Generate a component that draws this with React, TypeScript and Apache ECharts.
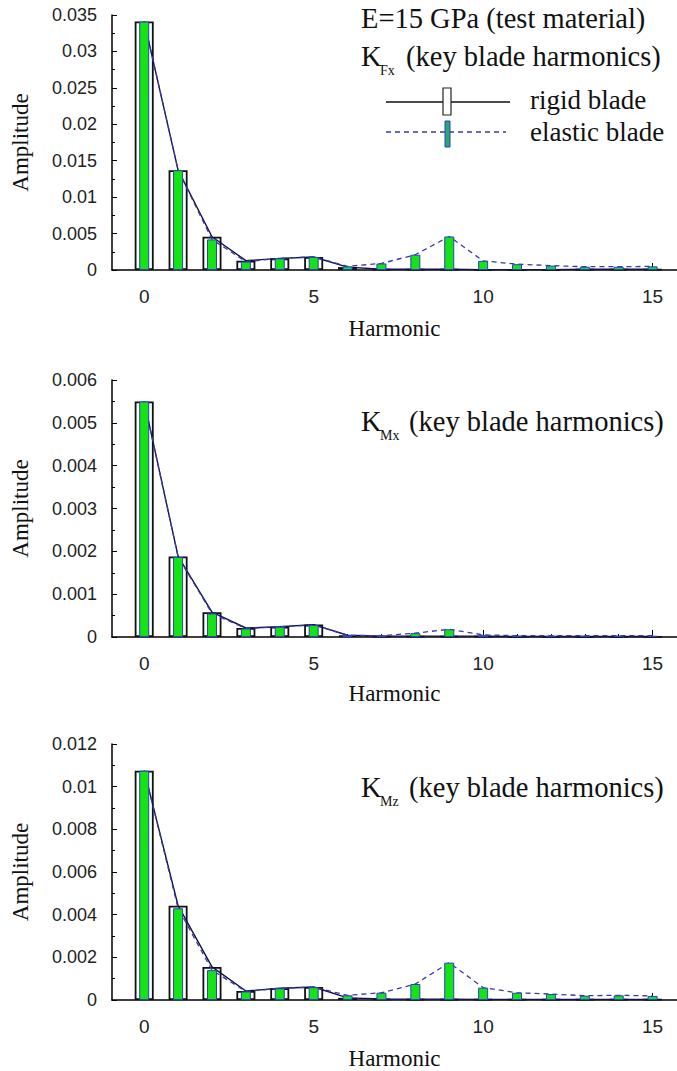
import React, { useEffect, useRef } from "react";
import * as echarts from "echarts";

const harmonics = [0, 1, 2, 3, 4, 5, 6, 7, 8, 9, 10, 11, 12, 13, 14, 15];
const xTickValues = [0, 5, 10, 15];

const kfxRigid = [0.0341, 0.0137, 0.00457, 0.00128, 0.0016, 0.00179, 0.0004, 0.0001, 0.0001, 0.0001, 0.00005, 0.00005, 0.00005, 0.0001, 0.0001, 0.0001];
const kfxElastic = [0.0341, 0.0137, 0.0042, 0.00115, 0.0016, 0.0018, 0.0005, 0.0009, 0.0021, 0.0046, 0.00125, 0.0008, 0.0006, 0.00045, 0.00045, 0.0005];

const kmxRigid = [0.0055, 0.00188, 0.00058, 0.00021, 0.00024, 0.00029, 0.00004, 0.00002, 0.00002, 0.00002, 0.00002, 0.00001, 0.00001, 0.00001, 0.00001, 0.00001];
const kmxElastic = [0.0055, 0.00187, 0.00055, 0.0002, 0.00024, 0.00028, 0.00004, 0.00003, 0.00009, 0.00018, 0.00005, 0.00003, 0.00003, 0.00003, 0.00003, 0.00003];

const kmzRigid = [0.01075, 0.00442, 0.00155, 0.00042, 0.00055, 0.00061, 0.0001, 0.00005, 0.00004, 0.00004, 0.00003, 0.00003, 0.00003, 0.00003, 0.00003, 0.00003];
const kmzElastic = [0.01075, 0.0043, 0.0014, 0.0004, 0.00055, 0.0006, 0.00022, 0.00034, 0.00075, 0.00175, 0.00058, 0.00034, 0.00028, 0.0002, 0.00022, 0.00019];

const panelSubscripts = ["Fx", "Mx", "Mz"];
const panelYMax = [0.035, 0.006, 0.012];
const panelYInterval = [0.005, 0.001, 0.002];
const panelRigid = [kfxRigid, kmxRigid, kmzRigid];
const panelElastic = [kfxElastic, kmxElastic, kmzElastic];

const headerText = "E=15 GPa (test material)";
const titleRest = "(key blade harmonics)";
const legendNames = ["rigid blade", "elastic blade"];

// layout
const gridTops = [15, 380, 744];
const gridHeights = [255, 257, 256];
const gridLeft = 112;
const titleY = [58, 423, 789];

const SERIF = "Liberation Serif, serif";
const SANS = "Liberation Sans, Arial, sans-serif";

const RIGID_LINE = "#12124a";
const ELASTIC_LINE = "#3a3aa6";
const GREEN = "#14e314";
const GREEN_BORDER = "#2a40c8";

function buildOption() {
  const grid: any[] = [];
  const xAxis: any[] = [];
  const yAxis: any[] = [];
  const series: any[] = [];
  const graphic: any[] = [];

  for (let p = 0; p < 3; p++) {
    grid.push({ left: gridLeft, right: 0, top: gridTops[p], height: gridHeights[p] });
    xAxis.push({
      type: "value",
      gridIndex: p,
      min: -0.95,
      max: 15.72,
      position: "bottom",
      axisLine: { onZero: false, lineStyle: { color: "#000", width: 1.5 } },
      axisTick: { show: true, inside: true, length: 7, customValues: xTickValues, lineStyle: { color: "#000" } },
      axisLabel: { customValues: xTickValues, fontSize: 19, color: "#222", margin: 17, fontFamily: SANS },
      splitLine: { show: false },
      name: "Harmonic",
      nameLocation: "middle",
      nameGap: [47, 45, 47][p],
      nameTextStyle: { fontFamily: SERIF, fontSize: 23, color: "#111" },
    });
    xAxis.push({
      type: "value",
      gridIndex: p,
      min: -0.95,
      max: 15.72,
      position: "bottom",
      offset: 0,
      axisLine: { show: false, onZero: false },
      axisTick: { show: true, inside: true, length: 3, customValues: harmonics, lineStyle: { color: "#111" } },
      axisLabel: { show: false },
      splitLine: { show: false },
    });
    yAxis.push({
      type: "value",
      gridIndex: p,
      min: 0,
      max: panelYMax[p],
      interval: panelYInterval[p],
      axisLine: { show: true, onZero: false, lineStyle: { color: "#000", width: 1.5 } },
      axisTick: { show: true, inside: true, length: 5, lineStyle: { color: "#000" } },
      minorTick: { show: true, splitNumber: 2, length: 3, lineStyle: { color: "#000" } },
      axisLabel: {
        fontSize: 18,
        color: "#222",
        margin: 15,
        fontFamily: SANS,
        formatter: (v: number) => String(parseFloat(v.toFixed(4))),
      },
      splitLine: { show: false },
      minorSplitLine: { show: false },
      name: "Amplitude",
      nameLocation: "middle",
      nameGap: 80,
      nameTextStyle: { fontFamily: SERIF, fontSize: 23, color: "#111" },
    });

    const rigidData = harmonics.map((h, i) => [h, panelRigid[p][i]]);
    const elasticData = harmonics.map((h, i) => [h, panelElastic[p][i]]);

    series.push({
      name: legendNames[0] + " bars " + p,
      type: "bar",
      xAxisIndex: 2 * p,
      yAxisIndex: p,
      data: rigidData,
      barWidth: 19,
      itemStyle: { color: "rgba(255,255,255,0)", borderColor: "#111", borderWidth: 1.8 },
      z: 2,
    });
    series.push({
      name: legendNames[0] + " line " + p,
      type: "line",
      xAxisIndex: 2 * p,
      yAxisIndex: p,
      data: rigidData,
      symbol: "none",
      lineStyle: { color: RIGID_LINE, width: 1.4 },
      z: 3,
    });
    series.push({
      name: legendNames[1] + " line " + p,
      type: "line",
      xAxisIndex: 2 * p,
      yAxisIndex: p,
      data: elasticData,
      symbol: "none",
      lineStyle: { color: ELASTIC_LINE, width: 1.3, type: [5, 4] },
      z: 3,
    });
    series.push({
      name: legendNames[1] + " bars " + p,
      type: "bar",
      xAxisIndex: 2 * p + 1,
      yAxisIndex: p,
      data: elasticData,
      barWidth: 10,
      itemStyle: { color: GREEN, borderColor: GREEN_BORDER, borderWidth: 1 },
      z: 4,
    });

    // panel title with subscript
    graphic.push({
      type: "text",
      left: 361,
      top: titleY[p] - 16,
      style: { text: "K", fontSize: 28.5, fontFamily: SERIF, fill: "#111" },
    });
    graphic.push({
      type: "text",
      left: 380,
      top: titleY[p] + 5,
      style: { text: panelSubscripts[p], fontSize: 14, fontFamily: SERIF, fill: "#111" },
    });
    graphic.push({
      type: "text",
      left: p === 0 ? 406 : 409,
      top: titleY[p] - 16,
      style: { text: titleRest, fontSize: 28.5, fontFamily: SERIF, fill: "#111" },
    });
  }

  graphic.push({
    type: "text",
    left: 361,
    top: 4,
    style: { text: headerText, fontSize: 28.5, fontFamily: SERIF, fill: "#111" },
  });

  // legend
  graphic.push({ type: "line", shape: { x1: 386, y1: 102, x2: 510, y2: 102 }, style: { stroke: "#111", lineWidth: 1.3 } });
  graphic.push({ type: "rect", shape: { x: 443, y: 88, width: 8, height: 27 }, style: { fill: "#fff", stroke: "#222", lineWidth: 1.2 } });
  graphic.push({ type: "text", left: 530, top: 86, style: { text: legendNames[0], fontSize: 27, fontFamily: SERIF, fill: "#111" } });
  graphic.push({ type: "line", shape: { x1: 386, y1: 132, x2: 506, y2: 132 }, style: { stroke: ELASTIC_LINE, lineWidth: 1.3, lineDash: [5, 4] } });
  graphic.push({ type: "rect", shape: { x: 445, y: 121, width: 5, height: 26 }, style: { fill: "#2aa870", stroke: GREEN_BORDER, lineWidth: 1 } });
  graphic.push({ type: "text", left: 530, top: 118, style: { text: legendNames[1], fontSize: 27, fontFamily: SERIF, fill: "#111" } });

  return {
    animation: false,
    backgroundColor: "#fff",
    grid,
    xAxis,
    yAxis,
    series,
    graphic,
  };
}

export default function App() {
  const ref = useRef<HTMLDivElement>(null);
  useEffect(() => {
    if (!ref.current) return;
    const chart = echarts.init(ref.current, undefined, { renderer: "svg" });
    chart.setOption(buildOption() as any);
    return () => chart.dispose();
  }, []);
  return (
    <div
      ref={ref}
      style={{ position: "absolute", left: 0, top: 0, width: 677, height: 1071, background: "#fff" }}
    />
  );
}
